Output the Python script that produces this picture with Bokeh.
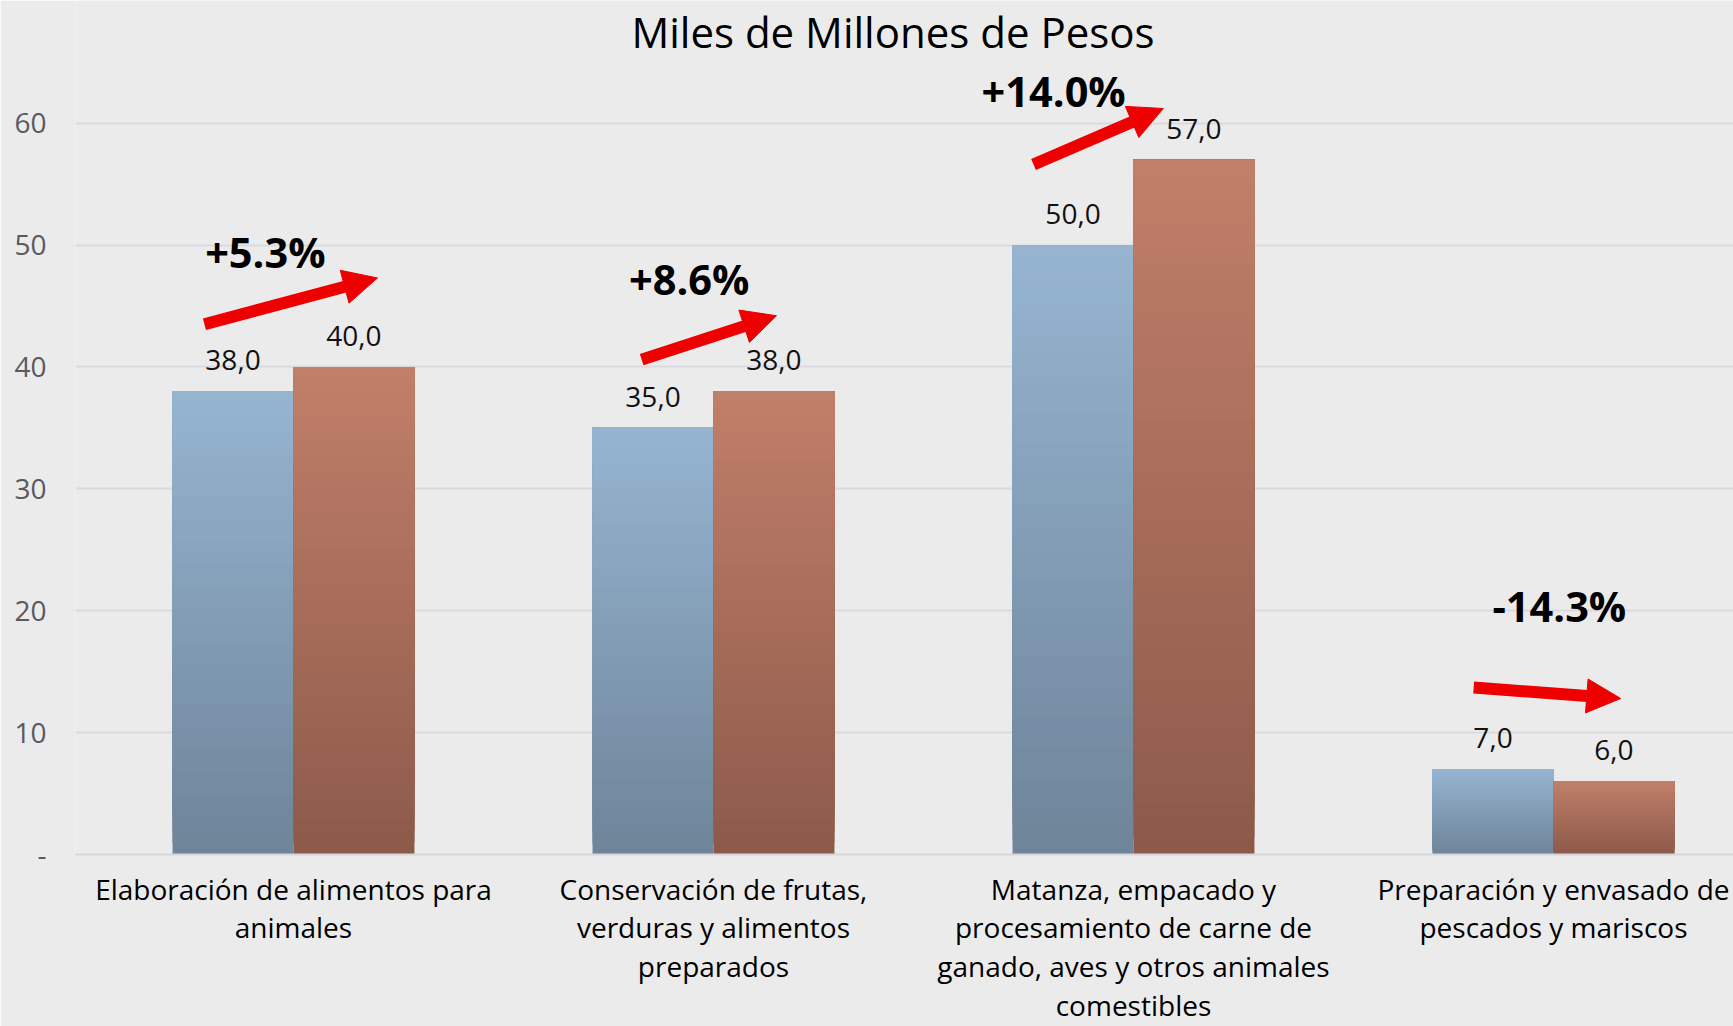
from bokeh.plotting import figure
from bokeh.models import FixedTicker, Label, Arrow, NormalHead, ColumnDataSource
from bokeh.embed import file_html
from bokeh.resources import INLINE
from bokeh.core.properties import value

# ---------------- data ----------------
categorias = [
    "Elaboración de alimentos para\nanimales",
    "Conservación de frutas,\nverduras y alimentos\npreparados",
    "Matanza, empacado y\nprocesamiento de carne de\nganado, aves y otros animales\ncomestibles",
    "Preparación y envasado de\npescados y mariscos",
]
serie_anterior = [38.0, 35.0, 50.0, 7.0]
serie_actual = [40.0, 38.0, 57.0, 6.0]
variaciones = ["+5.3%", "+8.6%", "+14.0%", "-14.3%"]
y_ticks = [0, 10, 20, 30, 40, 50, 60]
y_tick_labels = ["-", "10", "20", "30", "40", "50", "60"]
titulo = "Miles de Millones de Pesos"

# ---------------- annotation placement (relative to category) ----------------
pct_dx = [-0.067, -0.058, -0.19, 0.014]
pct_y = [49.4, 47.2, 62.6, 20.4]
arrow_x0 = [-0.212, -0.171, -0.238, -0.190]
arrow_y0 = [43.5, 40.6, 56.6, 13.7]
arrow_x1 = [0.200, 0.150, 0.071, 0.160]
arrow_y1 = [47.3, 44.2, 61.2, 12.8]

FONT = "Open Sans"
BW = 0.288
N = 40

def fmt(v):
    return f"{v:.1f}".replace(".", ",")

def hex2rgb(h):
    h = h.lstrip("#")
    return tuple(int(h[i:i + 2], 16) for i in (0, 2, 4))

def mix(c0, c1, t):
    a, b = hex2rgb(c0), hex2rgb(c1)
    return "#%02x%02x%02x" % tuple(int(round(a[j] + (b[j] - a[j]) * t)) for j in range(3))

def gradient_source(vals, offset, c_bottom, c_top):
    L, R, B, T, C = [], [], [], [], []
    for i, v in enumerate(vals):
        xc = i + offset
        for k in range(N):
            L.append(xc - BW / 2)
            R.append(xc + BW / 2)
            B.append(v * k / N)
            T.append(v)
            C.append(mix(c_bottom, c_top, (k + 0.5) / N))
    return ColumnDataSource(dict(left=L, right=R, bottom=B, top=T, color=C))

p = figure(
    width=1733, height=1026,
    x_range=(-0.519, 3.4286), y_range=(0, 70.06),
    output_backend="svg", toolbar_location=None,
    min_border_left=75, min_border_right=0, min_border_top=0, min_border_bottom=172,
)
p.background_fill_color = "#ECEBEC"
p.border_fill_color = "#ECEBEC"
p.outline_line_color = None

# grid
p.xgrid.grid_line_color = None
p.ygrid.ticker = FixedTicker(ticks=y_ticks)
p.ygrid.grid_line_color = "#D9D9E1"
p.ygrid.grid_line_width = 2

# y axis
p.yaxis.ticker = FixedTicker(ticks=y_ticks)
p.yaxis.major_label_overrides = {t: l for t, l in zip(y_ticks, y_tick_labels)}
p.yaxis.axis_line_color = None
p.yaxis.major_tick_line_color = None
p.yaxis.minor_tick_line_color = None
p.yaxis.major_label_standoff = 23
p.yaxis.major_label_text_font = FONT
p.yaxis.major_label_text_font_size = "28px"
p.yaxis.major_label_text_color = "#595960"

# x axis
p.xaxis.ticker = FixedTicker(ticks=list(range(len(categorias))))
p.xaxis.major_label_overrides = {i: c for i, c in enumerate(categorias)}
p.xaxis.axis_line_color = "#D6D6DC"
p.xaxis.axis_line_width = 2
p.xaxis.major_tick_line_color = None
p.xaxis.minor_tick_line_color = None
p.xaxis.major_label_standoff = 9
p.xaxis.major_label_text_font = FONT
p.xaxis.major_label_text_font_size = "28px"
p.xaxis.major_label_text_color = "#000000"
p.xaxis.major_label_text_line_height = 1.02

# bars (vertical gradient, light at top, darker at bottom)
src_a = gradient_source(serie_anterior, -BW / 2, "#6E8499", "#96B5D1")
src_b = gradient_source(serie_actual, BW / 2, "#8C5A4A", "#C17F69")
p.quad(left="left", right="right", bottom="bottom", top="top", fill_color="color",
       line_color=None, source=src_a)
p.quad(left="left", right="right", bottom="bottom", top="top", fill_color="color",
       line_color=None, source=src_b)

# value labels
lab_x = [i - BW / 2 for i in range(len(categorias))] + [i + BW / 2 for i in range(len(categorias))]
lab_y = serie_anterior + serie_actual
lab_t = [fmt(v) for v in lab_y]
p.text(x=lab_x, y=lab_y, text=lab_t, text_font=value(FONT), text_font_size="28px",
       text_align="center", text_baseline="middle", y_offset=-31, text_color="#111111")

# percent-change labels and arrows
for i, txt in enumerate(variaciones):
    p.add_layout(Label(x=i + pct_dx[i], y=pct_y[i], text=txt, text_font=FONT,
                       text_font_size="41.5px", text_font_style="bold", text_color="#000000",
                       text_align="center", text_baseline="middle"))
    p.add_layout(Arrow(x_start=i + arrow_x0[i], y_start=arrow_y0[i],
                       x_end=i + arrow_x1[i], y_end=arrow_y1[i],
                       line_color="#EE0000", line_width=12,
                       end=NormalHead(size=34, fill_color="#EE0000", line_color="#EE0000")))

# title
p.add_layout(Label(x=1.4274, y=67.5, text=titulo, text_font=FONT, text_font_size="42px",
                   text_color="#000000", text_align="center", text_baseline="middle"))

open("out.html", "w").write(file_html(p, INLINE))
